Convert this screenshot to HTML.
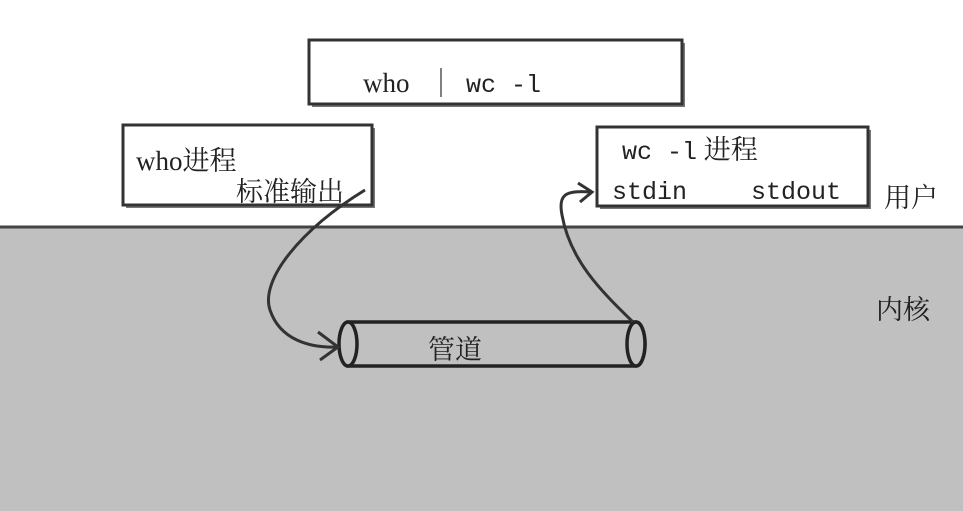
<!DOCTYPE html>
<html><head><meta charset="utf-8"><style>
html,body{margin:0;padding:0;background:#fff;}
svg{display:block}
.m{font-family:"Liberation Serif","Noto Serif CJK SC",serif;font-size:27px;fill:#222}
.c{font-family:"Liberation Serif","Noto Serif CJK SC",serif;font-size:27px;fill:#222}
</style></head><body>
<svg width="963" height="511" viewBox="0 0 963 511" xmlns="http://www.w3.org/2000/svg">
<rect x="0" y="0" width="963" height="511" fill="#fff"/>
<rect x="0" y="228" width="963" height="283" fill="#c0c0c0"/>
<line x1="0" y1="227" x2="963" y2="227" stroke="#444" stroke-width="3"/>
<rect x="312" y="43" width="373" height="64" fill="#777"/>
<rect x="309" y="40" width="373" height="64" fill="#fff" stroke="#333" stroke-width="3"/>
<text x="363" y="92" class="m">who</text>
<line x1="441" y1="68" x2="441" y2="97" stroke="#555" stroke-width="1.5"/>
<text x="466" y="92" class="m" style="font-family:'Liberation Mono',monospace;font-size:25px">wc -l</text>
<rect x="126" y="128" width="249" height="80" fill="#777"/>
<rect x="123" y="125" width="249" height="80" fill="#fff" stroke="#333" stroke-width="3"/>
<text x="136" y="170" class="c">who进程</text>
<text x="236" y="201" class="c">标准输出</text>
<rect x="600" y="130" width="271" height="79" fill="#777"/>
<rect x="597" y="127" width="271" height="79" fill="#fff" stroke="#333" stroke-width="3"/>
<text x="622" y="159" class="c"><tspan style="font-family:'Liberation Mono',monospace;font-size:25px">wc -l</tspan> 进程</text>
<text x="612" y="199" class="m" style="font-family:'Liberation Mono',monospace;font-size:25px">stdin</text>
<text x="751" y="199" class="m" style="font-family:'Liberation Mono',monospace;font-size:25px">stdout</text>
<text x="884" y="207" class="c">用户</text>
<text x="876" y="319" class="c">内核</text>
<path d="M348 322 L636 322 A9 22 0 0 1 636 366 L348 366 Z" fill="#c0c0c0" stroke="#222" stroke-width="3.5"/>
<ellipse cx="348" cy="344" rx="9" ry="22" fill="#c0c0c0" stroke="#222" stroke-width="3.5"/>
<ellipse cx="636" cy="344" rx="9" ry="22" fill="#c0c0c0" stroke="#222" stroke-width="3.5"/>
<text x="428" y="359" class="c">管道</text>
<path d="M365 190 C300 230 260 280 270 310 C280 340 310 348 337 347" fill="none" stroke="#333" stroke-width="3"/>
<path d="M318 332 L338 347 L320 360" fill="none" stroke="#333" stroke-width="3"/>
<path d="M633 322 C600 290 570 260 562 215 C558 195 565 190 590 192" fill="none" stroke="#333" stroke-width="3"/>
<path d="M578 183 L592 192 L580 202" fill="none" stroke="#333" stroke-width="3"/>
</svg>
</body></html>
